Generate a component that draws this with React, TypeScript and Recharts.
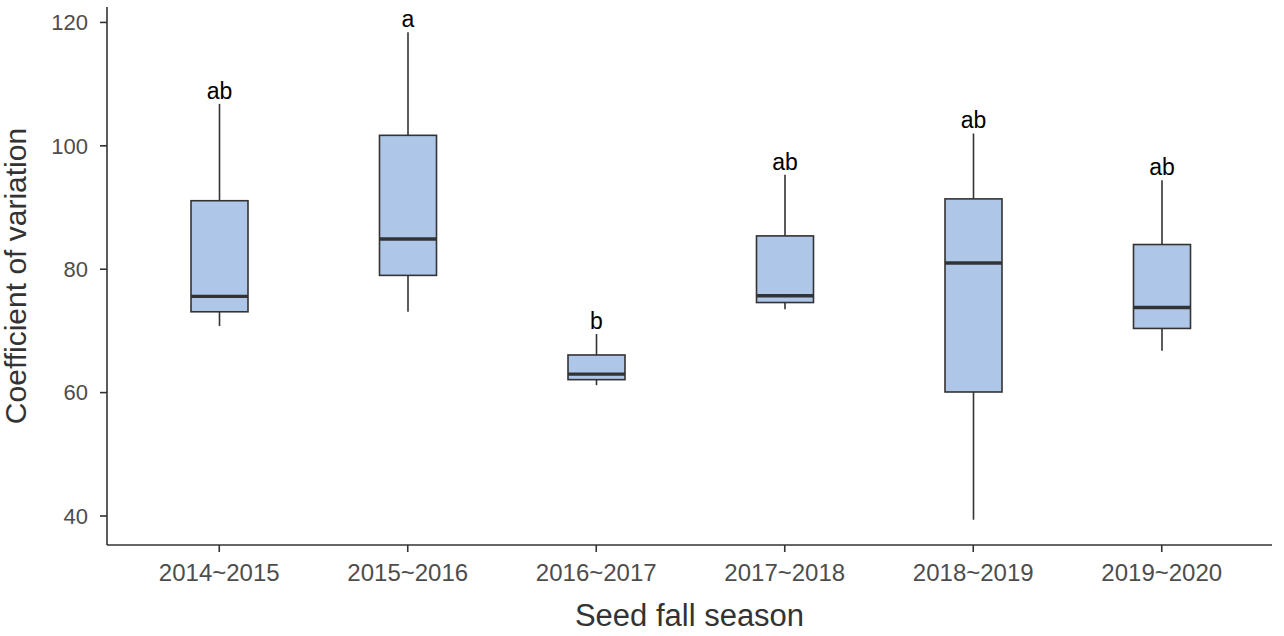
import { Bar, ComposedChart, Label, XAxis, YAxis } from "recharts";

const seasons = ["2014~2015", "2015~2016", "2016~2017", "2017~2018", "2018~2019", "2019~2020"];
const whiskerLow = [70.8, 73.1, 61.2, 73.5, 39.4, 66.8];
const quartile1 = [73.1, 79.0, 62.1, 74.6, 60.1, 70.4];
const medians = [75.6, 84.9, 63.0, 75.7, 81.0, 73.8];
const quartile3 = [91.1, 101.7, 66.1, 85.4, 91.4, 84.0];
const whiskerHigh = [106.8, 118.4, 69.5, 95.3, 102.0, 94.4];
const letters = ["ab", "a", "b", "ab", "ab", "ab"];
const yTicks = [40, 60, 80, 100, 120];

const data = seasons.map((season, i) => ({
  season,
  low: whiskerLow[i],
  q1: quartile1[i],
  median: medians[i],
  q3: quartile3[i],
  high: whiskerHigh[i],
  letter: letters[i],
}));

const ink = "#333333";
const boxFill = "#aec6e7";
const font = "'Liberation Sans', Arial, sans-serif";

function BoxShape(props: any) {
  const { x, y, width, height, payload } = props;
  const { low, high, q1, median, q3, letter } = payload;
  // map a value to pixels using the bar's own [low, high] extent
  const py = (v: number) => y + (height * (high - v)) / (high - low);
  const cx = x + width / 2;
  return (
    <g>
      <line x1={cx} x2={cx} y1={py(high)} y2={py(q3)} stroke={ink} strokeWidth={1.6} />
      <line x1={cx} x2={cx} y1={py(q1)} y2={py(low)} stroke={ink} strokeWidth={1.6} />
      <rect x={x} y={py(q3)} width={width} height={py(q1) - py(q3)} fill={boxFill} stroke={ink} strokeWidth={1.6} />
      <line x1={x} x2={x + width} y1={py(median)} y2={py(median)} stroke={ink} strokeWidth={3.4} />
      <text x={cx} y={py(high) - 5} textAnchor="middle" fontFamily={font} fontSize={23} fill="#000">
        {letter}
      </text>
    </g>
  );
}

export default function App() {
  return (
    <div style={{ position: "absolute", left: 0, top: 0, background: "#fff" }}>
      <ComposedChart width={1284} height={636} data={data} margin={{ top: 7, right: 12, bottom: 0, left: 0 }}>
        <XAxis
          dataKey="season"
          height={91}
          padding={{ left: 18, right: 16 }}
          axisLine={{ stroke: ink, strokeWidth: 1.6 }}
          tickLine={{ stroke: ink, strokeWidth: 1.6 }}
          tickSize={7}
          tick={{ fill: "#4d4d4d", fontSize: 24, fontFamily: font }}
          tickMargin={12}
        >
          <Label
            content={() => (
              <text x={689.5} y={626} textAnchor="middle" fontFamily={font} fontSize={31} fill="#333">
                Seed fall season
              </text>
            )}
          />
        </XAxis>
        <YAxis
          width={107}
          domain={[35.3, 122.5]}
          ticks={yTicks}
          allowDataOverflow
          axisLine={{ stroke: ink, strokeWidth: 1.6 }}
          tickLine={{ stroke: ink, strokeWidth: 1.6 }}
          tickSize={7}
          tickMargin={12}
          tick={{ fill: "#4d4d4d", fontSize: 22, fontFamily: font }}
        >
          <Label
            content={() => (
              <text
                x={0}
                y={0}
                transform="translate(26 276) rotate(-90)"
                textAnchor="middle"
                fontFamily={font}
                fontSize={30}
                fill="#333"
              >
                Coefficient of variation
              </text>
            )}
          />
        </YAxis>
        <Bar dataKey={(d: any) => [d.low, d.high]} barSize={57} shape={<BoxShape />} isAnimationActive={false} />
      </ComposedChart>
    </div>
  );
}
